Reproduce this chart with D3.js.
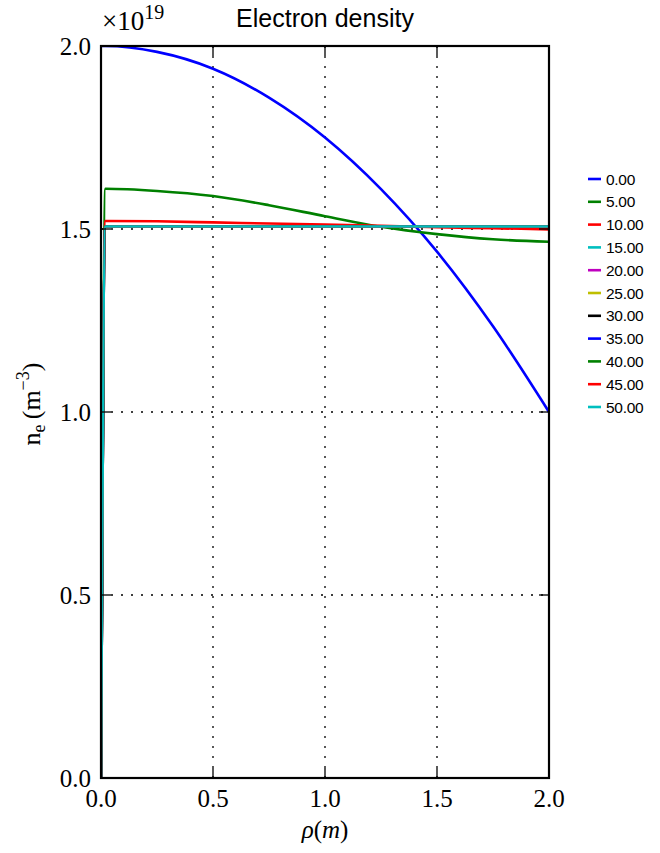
<!DOCTYPE html>
<html>
<head>
<meta charset="utf-8">
<script src="https://cdn.jsdelivr.net/npm/d3@7"></script>
<style>
  body { margin: 0; background: #fff; }
  svg { display: block; }
</style>
</head>
<body>
<svg id="chart" width="660" height="853"></svg>
<script>
// ---- data (values in units of 1e19 m^-3) ----
const times = ["0.00","5.00","10.00","15.00","20.00","25.00","30.00","35.00","40.00","45.00","50.00"];
const colors = ["#0000ff","#008000","#ff0000","#00bfbf","#bf00bf","#bfbf00","#000000","#0000ff","#008000","#ff0000","#00bfbf"];
const rhoGrid = [0, 0.02, 0.25, 0.5, 0.75, 1.0, 1.25, 1.5, 1.75, 2.0];
const ne00 = [2.000, 2.000, 1.984, 1.938, 1.859, 1.750, 1.609, 1.438, 1.234, 1.000];
const ne05 = [0, 1.610, 1.604, 1.590, 1.565, 1.535, 1.506, 1.486, 1.472, 1.465];
const ne10 = [0, 1.522, 1.521, 1.518, 1.515, 1.512, 1.509, 1.505, 1.502, 1.499];
const ne15 = [0, 1.507, 1.507, 1.507, 1.507, 1.507, 1.507, 1.507, 1.507, 1.507];
const ne20 = [0, 1.506, 1.506, 1.506, 1.506, 1.506, 1.506, 1.506, 1.506, 1.506];
const ne25 = [0, 1.506, 1.506, 1.506, 1.506, 1.506, 1.506, 1.506, 1.506, 1.506];
const ne30 = [0, 1.506, 1.506, 1.506, 1.506, 1.506, 1.506, 1.506, 1.506, 1.506];
const ne35 = [0, 1.506, 1.506, 1.506, 1.506, 1.506, 1.506, 1.506, 1.506, 1.506];
const ne40 = [0, 1.506, 1.506, 1.506, 1.506, 1.506, 1.506, 1.506, 1.506, 1.506];
const ne45 = [0, 1.506, 1.506, 1.506, 1.506, 1.506, 1.506, 1.506, 1.506, 1.506];
const ne50 = [0, 1.507, 1.507, 1.507, 1.507, 1.507, 1.507, 1.507, 1.507, 1.507];
const xTicks = [0, 0.5, 1.0, 1.5, 2.0];
const yTicks = [0, 0.5, 1.0, 1.5, 2.0];
const xTickLabels = ["0.0","0.5","1.0","1.5","2.0"];
const yTickLabels = ["0.0","0.5","1.0","1.5","2.0"];

const seriesValues = [ne00, ne05, ne10, ne15, ne20, ne25, ne30, ne35, ne40, ne45, ne50];

// ---- layout ----
const L = 101, R = 549, T = 46, B = 778;
const svg = d3.select("#chart");
const x = d3.scaleLinear().domain([0, 2]).range([L, R]);
const y = d3.scaleLinear().domain([0, 2]).range([B, T]);

const serif = "'Liberation Serif', 'Times New Roman', serif";
const sans = "'Liberation Sans', Arial, Helvetica, sans-serif";

// grid
const grid = svg.append("g").attr("stroke", "#000").attr("stroke-width", 1.3)
  .attr("stroke-dasharray", "2,8").attr("fill", "none");
xTicks.slice(1, -1).forEach(v => grid.append("line")
  .attr("x1", x(v)).attr("x2", x(v)).attr("y1", T).attr("y2", B));
yTicks.slice(1, -1).forEach(v => grid.append("line")
  .attr("y1", y(v)).attr("y2", y(v)).attr("x1", L).attr("x2", R));

// clip
svg.append("defs").append("clipPath").attr("id", "clip")
  .append("rect").attr("x", L).attr("y", T).attr("width", R - L).attr("height", B - T);

const line = d3.line()
  .x(d => x(d[0])).y(d => y(d[1]))
  .curve(d3.curveMonotoneX);

const plot = svg.append("g").attr("clip-path", "url(#clip)");
seriesValues.forEach((vals, i) => {
  const pts = rhoGrid.map((r, k) => [r, vals[k]]);
  plot.append("path").attr("d", line(pts))
    .attr("fill", "none").attr("stroke", colors[i]).attr("stroke-width", 2.6)
    .attr("stroke-linejoin", "round");
});

// ticks (inward, all four sides)
const tk = 10;
const ticks = svg.append("g").attr("stroke", "#000").attr("stroke-width", 1.3);
xTicks.forEach(v => {
  ticks.append("line").attr("x1", x(v)).attr("x2", x(v)).attr("y1", B).attr("y2", B - tk);
  ticks.append("line").attr("x1", x(v)).attr("x2", x(v)).attr("y1", T).attr("y2", T + tk);
});
yTicks.forEach(v => {
  ticks.append("line").attr("y1", y(v)).attr("y2", y(v)).attr("x1", L).attr("x2", L + tk);
  ticks.append("line").attr("y1", y(v)).attr("y2", y(v)).attr("x1", R).attr("x2", R - tk);
});

// frame
svg.append("rect").attr("x", L).attr("y", T).attr("width", R - L).attr("height", B - T)
  .attr("fill", "none").attr("stroke", "#000").attr("stroke-width", 2.2);

// tick labels
xTicks.forEach((v, i) => svg.append("text")
  .attr("x", x(v)).attr("y", B + 29).attr("text-anchor", "middle")
  .attr("font-family", serif).attr("font-size", 25).text(xTickLabels[i]));
yTicks.forEach((v, i) => svg.append("text")
  .attr("x", L - 10).attr("y", y(v) + 9).attr("text-anchor", "end")
  .attr("font-family", serif).attr("font-size", 25).text(yTickLabels[i]));

// offset text ×10^19
const off = svg.append("text").attr("x", 102).attr("y", 30)
  .attr("font-family", serif).attr("font-size", 27);
off.append("tspan").text("×10");
off.append("tspan").attr("dy", -11).attr("font-size", 20).text("19");

// title
svg.append("text").attr("x", 325).attr("y", 27).attr("text-anchor", "middle")
  .attr("font-family", sans).attr("font-size", 25).text("Electron density");

// x label
const xl = svg.append("text").attr("x", 325).attr("y", 838).attr("text-anchor", "middle")
  .attr("font-family", serif).attr("font-size", 25);
xl.append("tspan").attr("font-style", "italic").text("ρ");
xl.append("tspan").text("(");
xl.append("tspan").attr("font-style", "italic").text("m");
xl.append("tspan").text(")");

// y label
const yl = svg.append("text").attr("transform", "translate(40,404) rotate(-90)")
  .attr("text-anchor", "middle").attr("font-family", serif).attr("font-size", 26);
yl.append("tspan").text("n");
yl.append("tspan").attr("dy", 5).attr("font-size", 18).text("e");
yl.append("tspan").attr("dy", -5).text("\u2009(m");
yl.append("tspan").attr("dy", -11).attr("font-size", 18).text("−3");
yl.append("tspan").attr("dy", 11).text(")");

// legend
const lg = svg.append("g");
times.forEach((t, i) => {
  const yy = 179 + i * 22.8;
  lg.append("line").attr("x1", 588).attr("x2", 601).attr("y1", yy).attr("y2", yy)
    .attr("stroke", colors[i]).attr("stroke-width", 2.6);
  lg.append("text").attr("x", 606).attr("y", yy + 5.5)
    .attr("font-family", sans).attr("font-size", 15.5).attr("letter-spacing", -0.3).text(t);
});
</script>
</body>
</html>
